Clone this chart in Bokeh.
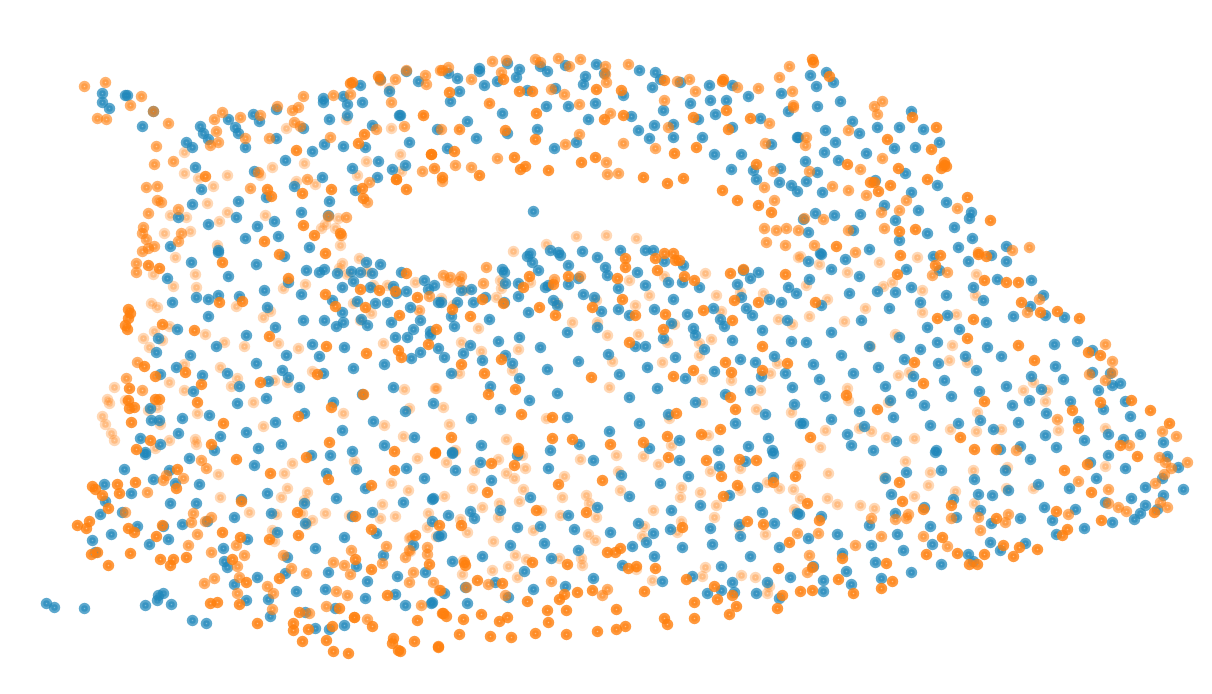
from bokeh.plotting import figure
from bokeh.models import Range1d
from bokeh.embed import file_html
from bokeh.resources import INLINE

blue_points = [
(102,93),(102,102),(109,108),(125,95),(127,95),(153,111),(142,126),(200,126),(203,133),(208,139),(186,142),(192,147),(228,119),(235,127),(238,133),(245,147),(253,114),(259,121),(276,109),(276,138),(303,128),(323,98),(323,102),(343,96),(347,104),(360,85),(362,102),(347,115),(329,119),(372,125),(324,144),(343,146),(365,147),(399,115),(409,142),(312,151),(285,160),(195,167),(254,171),(322,177),(294,186),(378,161),(352,168),(377,177),(392,169),(405,165),(355,190),(201,189),(266,197),(238,201),(329,201),(192,204),(301,212),(328,215),(178,217),(236,217),(208,224),(257,226),(274,221),(278,236),(245,238),(170,246),(218,250),(309,247),(380,79),(389,91),(406,71),(418,81),(437,129),
(448,73),(457,78),(450,101),(459,91),(479,68),(479,71),(484,85),(497,81),(507,63),(516,77),(519,69),(527,90),(555,88),(540,66),(547,71),(565,65),(585,76),(583,84),(596,64),(604,73),(623,95),(639,70),(655,72),(660,79),(652,87),(680,82),(709,85),(732,85),(748,96),(781,93),(788,111),(690,103),(710,100),(726,100),(663,110),(715,114),(698,119),(631,116),(588,119),(568,106),(595,103),(546,106),(502,113),(467,121),(400,115),(476,138),(447,148),(507,133),(537,129),(554,148),(576,142),(638,130),(649,138),(654,125),(673,124),(673,137),(702,137),(714,154),(732,127),(741,154),(731,169),(760,118),(771,144),(797,137),(780,168),(753,170),(756,179),(779,182),(791,185),(797,191),(533,211),
(810,75),(826,72),(833,82),(816,86),(840,101),(817,106),(911,111),(852,121),(825,130),(859,133),(877,127),(899,127),(923,129),(798,137),(835,142),(939,142),(915,147),(894,148),(866,153),(824,152),(805,161),(838,160),(817,172),(905,173),(875,180),(806,181),(822,192),(937,185),(911,192),(946,202),(884,205),(918,210),(971,212),(969,218),(815,213),(834,215),(860,214),(803,219),(895,220),(954,227),(853,230),(808,232),(927,233),(899,240),(972,238),(869,249),(958,247),(1006,246),(820,253),
(191,262),(167,278),(218,252),(228,276),(256,264),(284,256),(306,270),(319,272),(324,269),(337,273),(351,271),(360,272),(366,262),(372,273),(380,264),(401,272),(424,280),(434,285),(428,289),(393,286),(406,291),(396,293),(370,287),(342,287),(353,281),(288,282),(264,290),(301,294),(239,296),(218,295),(208,299),(196,297),(172,302),(267,307),(332,300),(357,301),(375,303),(387,302),(410,307),(438,302),(342,312),(324,320),(303,320),(343,322),(336,326),(367,325),(361,319),(391,322),(420,320),(413,329),(430,331),(430,335),(395,337),(407,337),(438,348),(420,352),(208,316),(275,327),(177,329),(246,335),(158,338),(216,346),(312,344),(344,347),(156,352),(190,355),(286,355),(319,356),(256,363),(411,358),(384,364),(353,368),(176,367),(282,370),(160,374),(202,375),(227,373),(323,373),(288,377),(268,381),(239,386),(299,387),(193,391),(393,387),(266,398),(237,403),(362,394),(333,402),(150,408),(304,413),(433,403),(405,411),(182,418),(209,415),(151,420),(159,420),(373,421),(275,422),(342,430),(140,438),(178,433),(220,436),(246,432),(160,444),(258,448),(281,444),(384,445),(414,437),(352,451),(145,452),(214,450),
(441,302),(457,302),(461,290),(471,289),(485,297),(473,302),(451,316),(454,326),(444,357),(463,353),(470,345),(498,341),(519,337),(489,319),(505,355),(482,360),(512,363),(451,373),(519,378),(540,347),(547,369),(578,361),(490,386),(557,393),(529,400),(500,409),(471,418),(481,445),(567,417),(609,431),(579,444),(629,397),(657,388),(619,374),(608,354),(647,367),(685,378),(675,357),(704,349),(714,371),(740,359),(755,362),(774,356),(761,376),(785,373),(791,341),(732,340),(762,330),(787,320),(752,315),(746,308),(724,326),(720,319),(713,308),(693,328),(695,335),(663,338),(645,346),(635,346),(671,323),(687,314),(654,309),(629,315),(618,309),(601,311),(597,327),(567,332),(557,305),(553,300),(528,312),(518,296),(504,302),(518,283),(505,283),(502,269),(504,272),(538,270),(532,262),(527,256),(530,253),(550,250),(558,252),(560,255),(568,265),(545,287),(548,285),(568,284),(578,278),(583,294),(594,297),(597,257),(582,251),(605,267),(607,275),(618,288),(637,272),(645,285),(668,282),(682,282),(699,287),(664,261),(683,265),(645,250),(653,250),(620,250),(673,299),(737,284),(743,270),(758,272),(750,278),(741,297),(769,299),(781,302),(788,287),(796,293),(750,390),(725,394),(695,402),(668,414),(639,423),(679,440),(735,423),(765,414),(792,387),(794,404),(768,438),(748,446),(718,450),(649,448),(550,450),(452,452),(800,423),(772,450),
(808,261),(821,254),(845,259),(831,269),(859,276),(809,279),(821,305),(849,293),(877,291),(895,292),(906,269),(911,287),(933,256),(939,270),(968,261),(991,255),(1006,261),(997,279),(1031,280),(973,287),(983,300),(920,302),(946,295),(1043,295),(1030,306),(1013,316),(1045,315),(1064,317),(947,315),(889,308),(861,320),(986,322),(927,327),(959,329),(831,332),(899,337),(937,342),(806,342),(869,346),(920,349),(987,347),(1054,344),(1077,341),(1092,350),(841,355),(904,359),(965,356),(1001,356),(813,364),(878,367),(938,363),(976,370),(1055,366),(853,373),(913,376),(819,379),(1031,376),(1063,379),(1092,372),(1110,373),(944,380),(885,386),(1006,386),(979,391),(1098,390),(1112,385),(1120,383),(1041,389),(911,393),(825,396),(951,396),(890,400),(924,405),(1012,405),(1029,400),(1070,401),(1125,401),(1103,409),(859,411),(1046,413),(893,417),(1130,416),(831,419),(803,423),(1078,421),(980,420),(958,423),(1018,422),(930,425),(864,426),(993,429),(847,434),(1045,435),(1108,434),(1140,434),(1123,439),(1084,440),(1163,442),(896,441),(851,445),(1020,446),(1000,449),(936,450),(873,450),(1056,447),
(124,469),(104,484),(153,479),(169,470),(189,458),(145,454),(175,483),(199,484),(131,493),(105,501),(170,503),(196,503),(100,514),(122,512),(254,465),(267,493),(241,499),(326,473),(336,498),(356,469),(330,455),(311,455),(406,468),(424,478),(365,488),(403,502),(433,498),(304,503),(234,517),(271,513),(182,524),(207,521),(163,526),(137,526),(111,534),(92,540),(168,539),(149,544),(247,539),(277,532),(305,523),(352,516),(372,512),(376,533),(344,537),(315,548),(223,548),(224,561),(227,567),(287,557),(285,573),(257,577),(234,584),(383,555),(356,566),(328,572),(367,581),(413,545),(397,576),(425,572),(432,521),(438,536),(296,591),(325,589),(365,598),(395,594),(405,605),(432,602),(246,600),(268,599),(270,616),(305,612),(335,608),(315,628),(329,629),(344,625),(163,593),(158,595),(157,600),(171,604),(145,605),(46,603),(54,607),(84,608),(192,620),(206,623),(95,552),
(455,470),(480,462),(517,455),(452,453),(491,480),(548,468),(593,460),(621,475),(660,483),(688,476),(629,496),(679,460),(719,466),(745,461),(773,453),(773,477),(757,487),(729,495),(700,505),(671,510),(432,499),(448,515),(470,511),(474,518),(500,510),(530,497),(568,515),(597,507),(441,535),(517,527),(540,526),(574,529),(610,532),(544,543),(510,545),(482,556),(452,561),(578,550),(551,558),(524,571),(495,582),(465,587),(444,593),(533,589),(508,597),(467,603),(431,603),(565,586),(593,578),(638,523),(653,533),(646,542),(632,546),(670,529),(682,547),(654,556),(622,565),(662,581),(710,528),(712,544),(739,524),(740,536),(774,523),(762,512),(779,547),(750,556),(721,566),(692,576),(732,582),(707,593),(721,590),(734,592),(756,593),(767,582),(790,577),(779,598),(797,513),
(935,452),(1030,459),(1108,455),(1090,462),(1125,468),(1167,456),(1178,467),(1162,478),(941,470),(906,472),(885,478),(1005,470),(974,479),(1096,478),(1069,488),(1145,487),(1183,489),(1163,495),(891,494),(978,494),(992,495),(1008,490),(1038,484),(953,499),(1105,502),(1131,498),(1044,507),(1075,509),(1145,505),(924,507),(980,510),(895,513),(799,514),(821,516),(1020,518),(1052,520),(1140,513),(1134,519),(1157,509),(956,517),(991,523),(1112,522),(869,525),(930,526),(1084,528),(1056,534),(837,534),(808,538),(897,534),(932,544),(990,542),(1025,543),(1000,550),(871,545),(842,553),(903,550),(968,554),(973,561),(875,562),(941,564),(813,566),(846,571),(911,572),(823,580),(881,578),(851,584),(823,591),
]

orange_strong_points = [
(205,176),(296,150),(267,189),(271,196),(302,193),(331,189),(303,225),(264,241),(314,235),(340,233),(350,83),(352,82),(378,76),(364,134),(358,143),(362,188),(363,198),(406,189),(431,154),(442,177),(396,179),(449,92),(503,79),(519,91),(532,91),(536,113),(505,130),(535,139),(454,151),(431,154),(479,175),(514,157),(525,166),(520,169),(548,170),(581,162),(595,157),(643,177),(667,183),(683,178),(722,190),(737,200),(758,205),(771,212),(756,164),(604,119),(623,115),(596,89),(621,90),(664,80),(723,79),(722,81),(726,110),(693,117),(728,129),(750,118),(696,147),(674,153),(812,59),(813,62),(829,76),(912,117),(936,127),(887,139),(931,149),(944,162),(944,165),(941,168),(946,166),(847,164),(898,168),(927,179),(870,182),(874,182),(890,185),(878,191),(967,197),(990,220),(915,229),(899,231),(836,246),
(222,262),(159,268),(148,265),(279,254),(288,278),(325,253),(219,302),(242,301),(325,294),(417,297),(360,289),(379,290),(395,291),(406,273),(335,306),(365,307),(399,315),(162,324),(194,330),(269,336),(326,346),(436,329),(428,344),(398,350),(401,357),(366,353),(144,366),(155,376),(185,372),(317,374),(260,382),(201,384),(197,402),(155,399),(159,399),(363,394),(331,407),(298,416),(223,423),(131,422),(150,440),(211,444),(329,442),(136,449),(394,451),(129,388),(128,400),(129,408),(134,407),(128,309),(130,313),(128,318),(125,325),(127,329),
(529,276),(523,287),(553,284),(568,276),(482,299),(503,303),(539,307),(555,315),(470,316),(452,309),(461,364),(484,373),(501,359),(515,389),(488,394),(591,377),(521,414),(552,417),(451,437),(552,438),(572,439),(610,444),(518,448),(435,452),(643,442),(667,436),(701,434),(720,429),(676,413),(735,409),(730,397),(673,376),(693,370),(725,362),(731,372),(762,370),(787,363),(762,346),(629,342),(663,329),(665,314),(635,315),(622,299),(592,307),(732,320),(703,310),(734,300),(758,302),(785,274),(684,276),(694,280),(657,270),(655,258),(664,253),(673,253),(675,260),(679,260),(625,258),(625,267),(617,278),(730,273),(743,269),
(900,255),(940,255),(935,265),(897,274),(815,302),(937,318),(973,319),(984,280),(1006,282),(1018,282),(978,254),(986,256),(1021,302),(1040,312),(1057,311),(1079,318),(967,338),(1018,345),(1088,352),(1100,355),(1034,360),(914,362),(923,383),(846,395),(1100,402),(1131,400),(984,401),(877,409),(1072,410),(1150,410),(1078,428),(1169,423),(810,437),(960,437),(974,449),(996,449),(1120,445),
(92,486),(95,489),(102,495),(117,484),(135,482),(119,493),(108,508),(89,521),(77,525),(86,528),(128,528),(134,532),(162,525),(156,536),(130,553),(91,554),(97,552),(108,565),(160,559),(173,559),(170,565),(186,557),(177,469),(176,488),(236,459),(270,473),(306,457),(328,479),(394,470),(371,485),(241,501),(297,512),(355,516),(371,529),(439,525),(415,535),(222,532),(240,537),(232,559),(269,539),(298,535),(279,578),(246,582),(239,604),(210,603),(217,602),(355,559),(371,569),(429,564),(299,612),(339,608),(354,617),(387,595),(293,623),(293,630),(257,623),(326,640),(302,641),(333,651),(348,653),(393,638),(392,643),(398,650),(414,641),(417,620),(438,647),(442,613),(332,626),(308,629),(372,626),
(435,453),(491,463),(514,465),(518,451),(558,484),(602,480),(668,457),(706,460),(739,459),(756,460),(721,476),(737,485),(773,482),(795,476),(723,496),(487,492),(536,510),(586,512),(461,525),(464,562),(465,565),(532,562),(567,564),(607,552),(615,552),(620,548),(628,568),(636,566),(655,568),(682,527),(747,521),(763,524),(789,542),(778,568),(686,579),(714,586),(732,595),(717,599),(782,595),(777,608),(736,606),(729,614),(694,602),(694,618),(664,618),(667,624),(644,591),(616,609),(592,590),(577,592),(564,594),(559,599),(566,610),(547,610),(548,622),(566,634),(535,633),(511,637),(490,636),(459,634),(438,646),(463,619),(481,614),(499,621),(507,617),(443,613),(446,616),(527,601),(502,583),(477,580),(597,631),(616,629),(625,626),(400,651),
(899,482),(1064,470),(1137,456),(1087,464),(1091,492),(902,501),(807,503),(951,505),(923,509),(819,520),(996,518),(1056,511),(1154,512),(1101,520),(1067,529),(1062,535),(942,537),(926,554),(957,553),(969,564),(977,564),(984,554),(1003,545),(1019,547),(1013,556),(1037,549),(842,558),(886,563),(812,567),(892,581),(881,588),(838,579),(853,593),(812,590),(800,591),
]

orange_mid_points = [
(84,86),(105,82),(141,96),(130,105),(97,118),(106,119),(153,111),(168,123),(156,146),(154,164),(173,161),(146,187),(157,186),(157,200),(161,202),(178,209),(148,213),(143,227),(142,233),(146,239),(181,233),(178,241),(154,246),(148,248),(142,251),(222,112),(214,119),(216,131),(218,142),(210,145),(240,117),(245,138),(269,138),(260,115),(277,106),(292,110),(298,107),(303,96),(294,122),(300,126),(330,137),(258,172),(307,179),(250,188),(328,216),(346,217),(341,235),(333,95),(350,94),(380,80),(395,79),(406,70),(391,102),(425,75),(426,84),(404,126),(376,129),(422,171),(396,179),(369,182),(367,202),(442,181),(440,70),
(442,70),(448,67),(471,79),(492,61),(506,60),(501,72),(535,59),(540,62),(558,58),(580,59),(569,66),(551,89),(564,94),(605,66),(605,74),(606,82),(628,64),(677,81),(689,79),(695,91),(664,100),(737,87),(758,88),(779,77),(789,66),(792,91),(793,105),(793,107),(668,127),(769,123),(765,143),(655,148),(623,143),(610,113),(579,104),(489,103),(423,115),(441,129),(459,129),(579,134),(565,144),(434,168),(455,165),(497,158),(471,167),(606,162),(607,174),(618,173),(774,200),(764,187),(773,171),(764,228),(776,230),(786,228),(798,230),(766,242),
(882,101),(874,106),(877,114),(848,130),(806,137),(805,145),(882,158),(860,169),(809,171),(832,186),(848,190),(866,195),(906,200),(957,208),(899,210),(881,212),(823,219),(804,218),(848,230),(884,228),(785,245),(814,245),(855,252),(978,252),(1012,250),(1029,247),
(136,263),(136,272),(126,378),(142,390),(137,362),(429,296),(443,275),(450,277),(461,276),(486,267),(483,283),(554,279),(580,276),(459,281),(947,272),(932,275),(1105,344),(1112,361),(1089,374),(1112,372),(1105,380),(1039,299),(1027,312),(1057,419),(1162,431),(1176,436),(1129,445),(1016,450),
(201,460),(206,468),(163,480),(166,475),(183,478),(147,492),(125,512),(188,545),(197,534),(191,522),(193,513),(211,517),(205,521),(214,578),(204,583),(237,566),(236,545),(211,552),(244,555),(237,593),(239,577),(291,568),(283,555),(306,573),(267,586),(273,593),(272,609),(333,562),(344,565),(350,574),(351,550),(386,546),(382,563),(409,550),(405,557),(413,572),(409,582),(427,547),(427,554),(433,582),(439,590),(336,591),(347,595),(326,606),(421,605),(309,613),(367,619),(354,617),(505,595),(466,587),(488,584),(440,590),(551,581),(602,595),(607,589),
(908,514),(906,518),(895,519),(980,530),(818,533),(797,533),(881,536),(923,536),(947,546),(855,545),(809,555),(807,572),(1159,457),(1165,462),(1171,468),(1187,462),(1164,474),(1155,483),(1118,507),(1126,511),(1160,502),(1167,507),(1068,514),(1008,514),(1005,522),(978,517),(951,518),(871,518),(1078,481),(1108,489),(1108,503),
]

orange_pale_points = [
(184,152),(184,173),(198,178),(227,175),(213,186),(207,203),(170,215),(186,217),(227,212),(219,221),(164,233),(190,231),(217,245),(286,128),(304,163),(272,167),(260,175),(296,181),(315,184),(265,215),(321,228),(325,224),(338,218),(335,228),(340,245),(389,88),(423,115),(391,128),(346,119),(400,154),(366,161),(434,168),(401,171),(357,175),
(489,103),(423,115),(459,129),(636,238),(606,235),(576,236),(546,244),(513,251),
(175,257),(153,274),(195,274),(173,286),(196,287),(151,303),(157,307),(236,306),(270,311),(263,317),(283,288),(305,284),(353,303),(419,310),(371,313),(360,320),(169,326),(154,331),(143,338),(162,340),(149,347),(205,334),(224,342),(244,346),(278,343),(298,348),(383,343),(184,364),(220,367),(312,371),(237,378),(274,380),(287,382),(169,382),(114,387),(231,386),(184,390),(404,389),(435,388),(107,399),(109,403),(125,400),(253,402),(157,407),(148,410),(197,413),(343,413),(409,408),(102,416),(105,424),(160,424),(263,426),(384,425),(111,433),(114,440),(195,439),(196,444),(169,440),(403,436),(155,448),(359,258),(342,263),(339,268),(347,274),(367,271),(373,285),(387,285),(415,282),
(448,282),(465,290),(500,280),(501,288),(530,282),(441,298),(453,305),(496,297),(419,310),(478,328),(461,342),(481,351),(518,349),(512,370),(459,373),(572,322),(597,322),(596,300),(557,303),(607,335),(612,361),(638,334),(667,342),(674,324),(711,339),(699,343),(699,355),(662,362),(702,379),(731,380),(770,373),(777,363),(760,390),(702,402),(756,409),(791,412),(669,418),(708,435),(671,445),(609,387),(546,418),(506,439),(449,424),(443,407),(436,388),(455,450),(635,305),(649,295),(629,280),(664,276),(705,273),(721,311),(716,295),(740,292),(763,293),(778,319),(792,324),(798,257),
(800,256),(819,264),(847,272),(879,262),(917,257),(892,282),(883,286),(922,290),(806,285),(827,299),(865,308),(809,316),(844,321),(922,312),(956,314),(975,295),(976,274),(952,345),(895,334),(870,346),(949,360),(967,362),(898,375),(909,372),(1033,382),(1023,390),(1047,390),(847,388),(848,400),(888,402),(1045,401),(977,412),(825,430),(859,428),(871,431),(950,429),(976,431),(1001,429),(1058,430),(1105,428),(886,437),(914,438),(820,447),
(218,474),(284,473),(292,463),(354,461),(417,458),(391,483),(408,490),(287,488),(281,497),(307,492),(304,500),(220,497),(249,512),(276,514),(302,513),(312,520),(325,513),(306,524),(349,515),(382,504),(380,518),(395,516),(428,513),(427,527),(436,536),(410,537),(272,530),(274,541),
(446,462),(453,452),(474,470),(498,459),(522,455),(506,473),(514,478),(525,468),(472,488),(444,496),(523,489),(519,501),(499,503),(482,507),(498,517),(562,497),(564,476),(580,459),(616,455),(618,471),(643,456),(658,464),(681,487),(680,497),(620,490),(700,492),(710,471),(716,505),(714,517),(740,468),(740,490),(767,482),(779,488),(793,489),(794,509),(797,467),(653,510),(586,495),(589,503),(596,517),(560,515),(541,510),(533,530),(588,534),(595,540),(644,526),(642,536),(681,521),(677,532),(739,527),(765,534),(460,519),(467,532),(409,538),(493,541),(410,551),(515,555),(463,560),(526,559),(559,558),(581,558),(582,565),(508,566),(492,570),(462,574),(517,577),(636,569),(652,580),(702,576),(705,567),(741,575),(755,577),(769,586),(767,593),
(800,463),(828,473),(884,477),(905,461),(930,472),(973,470),(1007,467),(928,485),(800,498),(827,498),(837,504),(860,505),(874,508),(914,496),(955,491),(974,503),(1033,488),(1006,488),(1105,466),
]

BLUE = "#1f86ba"
ORANGE = "#ff7f0e"
MARK_SIZE = 6.5
STROKE = 5

p = figure(width=1196, height=678, output_backend="svg", toolbar_location=None,
           x_range=Range1d(0, 1196), y_range=Range1d(678, 0),
           min_border=0, outline_line_color=None)
p.axis.visible = False
p.grid.visible = False


def draw(points, color, fill_alpha, line_alpha):
    p.scatter([q[0] for q in points], [q[1] for q in points], size=MARK_SIZE,
              fill_color=color, line_color=color, line_width=STROKE,
              fill_alpha=fill_alpha, line_alpha=line_alpha)


draw(orange_pale_points, ORANGE, 0.3, 0.3)
draw(blue_points, BLUE, 0.6, 0.72)
draw(orange_mid_points, ORANGE, 0.4, 0.6)
draw(orange_strong_points, ORANGE, 0.5, 0.8)

open("out.html", "w").write(file_html(p, INLINE))
